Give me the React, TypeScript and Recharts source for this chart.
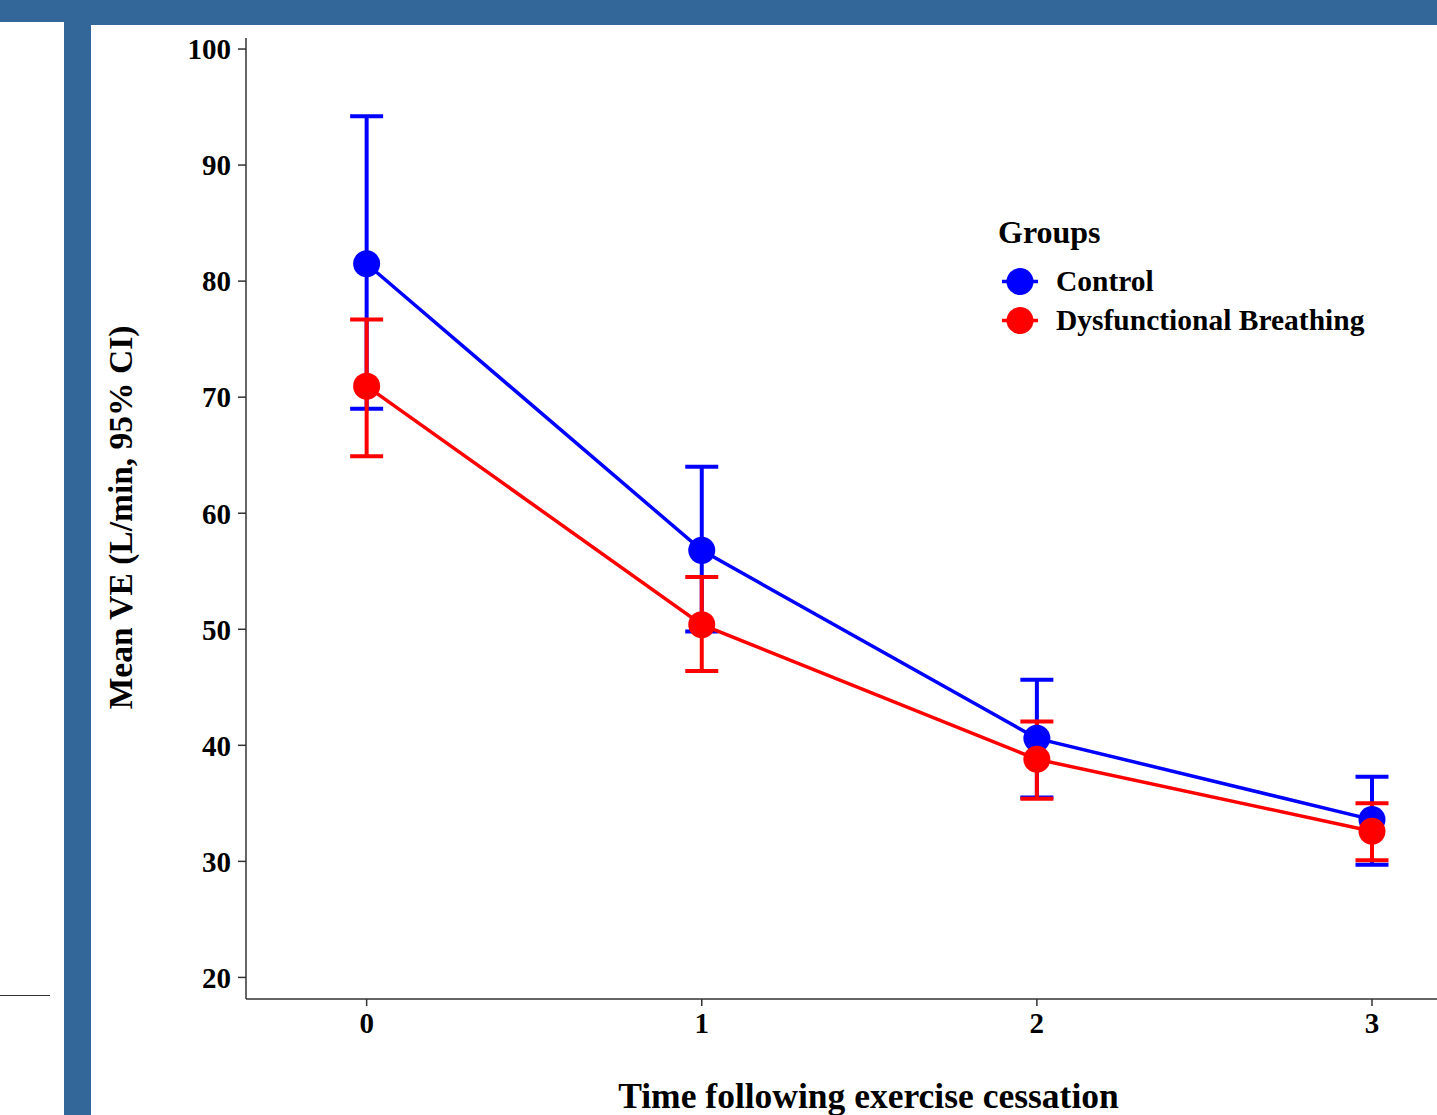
import React from 'react';
import { ComposedChart, Line, XAxis, YAxis, ErrorBar, Label, Legend } from 'recharts';

const times = [0, 1, 2, 3];

const controlMean = [81.5, 56.8, 40.6, 33.6];
const controlLower = [69.0, 49.8, 35.5, 29.7];
const controlUpper = [94.2, 64.0, 45.65, 37.3];

const dbMean = [70.95, 50.4, 38.8, 32.6];
const dbLower = [64.9, 46.4, 35.4, 30.1];
const dbUpper = [76.7, 54.5, 42.05, 35.0];

const yTicks = [20, 30, 40, 50, 60, 70, 80, 90, 100];
const xTicks = [0, 1, 2, 3];

const groups = [
  { name: 'Control', color: '#0000FF' },
  { name: 'Dysfunctional Breathing', color: '#FF0000' },
];

const data = times.map((t, i) => ({
  time: t,
  control: controlMean[i],
  controlErr: [controlMean[i] - controlLower[i], controlUpper[i] - controlMean[i]],
  db: dbMean[i],
  dbErr: [dbMean[i] - dbLower[i], dbUpper[i] - dbMean[i]],
}));

const FONT = '"Liberation Serif", "Times New Roman", serif';
const BAR = '#336699';

const tickStyle = { fill: '#000', fontSize: 29, fontWeight: 'bold', fontFamily: FONT };

const GroupsLegend = () => (
  <svg width={457} height={150}>
    <text x={18} y={43} fontFamily={FONT} fontWeight="bold" fontSize={32} fill="#000">
      Groups
    </text>
    {groups.map((g, i) => {
      const cy = 81.5 + i * 39;
      return (
        <g key={g.name}>
          <line x1={22} x2={58} y1={cy} y2={cy} stroke={g.color} strokeWidth={3.5} />
          <circle cx={40} cy={cy} r={13.5} fill={g.color} />
          <text x={76} y={cy + 9.5} fontFamily={FONT} fontWeight="bold" fontSize={29.5} fill="#000">
            {g.name}
          </text>
        </g>
      );
    })}
  </svg>
);

export default function App() {
  return (
    <div style={{ position: 'absolute', top: 0, left: 0, width: 1437, height: 1115, background: '#fff', overflow: 'hidden' }}>
      <ComposedChart width={1437} height={1115} data={data} margin={{ top: 38, right: 0, bottom: 0, left: 0 }}>
        <XAxis
          type="number"
          dataKey="time"
          domain={[-0.36, 3.194]}
          ticks={xTicks}
          allowDataOverflow
          height={116}
          tickSize={7}
          tickMargin={6}
          tick={tickStyle}
          axisLine={{ stroke: '#333', strokeWidth: 1.5 }}
          tickLine={{ stroke: '#333', strokeWidth: 1.5 }}
        >
          <Label
            value="Time following exercise cessation"
            position="insideBottom"
            offset={7}
            dx={27}
            style={{ fill: '#000', fontSize: 35.5, fontWeight: 'bold', fontFamily: FONT }}
          />
        </XAxis>
        <YAxis
          type="number"
          domain={[18.14, 100.95]}
          ticks={yTicks}
          allowDataOverflow
          width={246}
          tickSize={8}
          tickMargin={7}
          tick={tickStyle}
          axisLine={{ stroke: '#333', strokeWidth: 1.5 }}
          tickLine={{ stroke: '#333', strokeWidth: 1.5 }}
        >
          <Label
            value="Mean VE (L/min, 95% CI)"
            position="center"
            angle={-90}
            dx={-3}
            dy={-1}
            style={{ fill: '#000', fontSize: 33.5, fontWeight: 'bold', fontFamily: FONT, textAnchor: 'middle' }}
          />
        </YAxis>
        <Legend
          layout="vertical"
          align="center"
          verticalAlign="middle"
          content={() => <GroupsLegend />}
          wrapperStyle={{ left: 980, top: 200, width: 457, height: 150 }}
        />
        <Line
          dataKey="control"
          name="Control"
          stroke="#0000FF"
          strokeWidth={3.5}
          dot={{ r: 13.5, fill: '#0000FF', stroke: '#0000FF', strokeWidth: 0 }}
          activeDot={false}
          isAnimationActive={false}
        >
          <ErrorBar dataKey="controlErr" direction="y" width={16.5} stroke="#0000FF" strokeWidth={4} />
        </Line>
        <Line
          dataKey="db"
          name="Dysfunctional Breathing"
          stroke="#FF0000"
          strokeWidth={3.5}
          dot={{ r: 13.5, fill: '#FF0000', stroke: '#FF0000', strokeWidth: 0 }}
          activeDot={false}
          isAnimationActive={false}
        >
          <ErrorBar dataKey="dbErr" direction="y" width={16.5} stroke="#FF0000" strokeWidth={4} />
        </Line>
      </ComposedChart>
      <div style={{ position: 'absolute', left: 0, top: 0, width: 1437, height: 22, background: BAR }} />
      <div style={{ position: 'absolute', left: 91, top: 0, width: 1346, height: 25, background: BAR }} />
      <div style={{ position: 'absolute', left: 64, top: 0, width: 27, height: 1115, background: BAR }} />
      <div style={{ position: 'absolute', left: 0, top: 995, width: 50, height: 1, background: '#333' }} />
    </div>
  );
}
